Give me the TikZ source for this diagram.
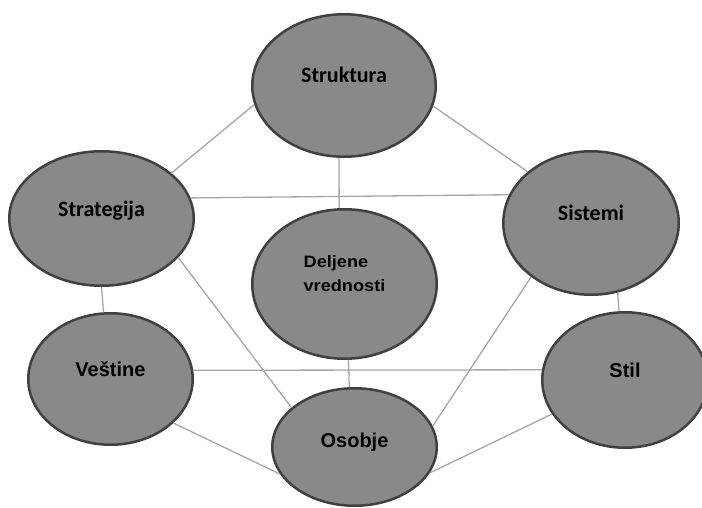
\documentclass[tikz,border=0pt]{standalone}
\usepackage{fontspec}
\newfontfamily\calfont{Carlito}
\newfontfamily\arfont{Liberation Sans}
\newfontfamily\widefont[FakeStretch=1.1]{Liberation Sans}
\usetikzlibrary{shapes.geometric}
\definecolor{bubble}{HTML}{898989}
\definecolor{rim}{HTML}{404040}
\definecolor{wire}{HTML}{A6A6A6}
\tikzset{
  elli/.style={ellipse, draw=rim, line width=2.5pt, fill=bubble, inner sep=0pt,
               text height=12pt, text depth=17pt},
  topname/.style={elli, font=\calfont\bfseries\fontsize{22pt}{26pt}\selectfont},
  lowname/.style={elli, font=\arfont\bfseries\fontsize{20pt}{24pt}\selectfont},
  link/.style={draw=wire, line width=1.3pt}
}

\begin{document}
\begin{tikzpicture}[x=1pt, y=-1pt]
  \useasboundingbox (0,0) rectangle (702,508);

  % the seven ovals
  \node[topname, minimum width=183.5pt, minimum height=142.5pt] (struk) at (344,85.5) {Struktura};
  \node[topname, minimum width=184.5pt, minimum height=134.5pt] (strat) at (101.5,218.5) {Strategija};
  \node[topname, minimum width=175.5pt, minimum height=143.5pt] (sist) at (591,223) {Sistemi};
  \node[elli, font=\widefont\bfseries\fontsize{16.5pt}{24pt}\selectfont,
        text height=20pt, text depth=4.3pt,
        minimum width=184.5pt, minimum height=149.5pt] (delj) at (344.5,284)
        {\vbox{\hbox{Deljene}\hbox{vrednosti}}\hspace{20pt}};
  \node[lowname, minimum width=164.5pt, minimum height=131.5pt] (vest) at (110.5,379) {Veštine};
  \node[lowname, minimum width=165.5pt, minimum height=135.5pt] (stil) at (625,380) {Stil};
  \node[lowname, text depth=11pt, minimum width=164.5pt, minimum height=117.5pt] (osob) at (354.5,447) {Osobje};

  % links
  \draw[link] (struk.192) -- (strat.33);
  \draw[link] (struk.347) -- (sist.141);
  \draw[link] (struk.266) -- (delj.94);
  \draw[link] (strat.13) -- (sist.161);
  \draw[link] (strat.270) -- (vest.96);
  \draw[link] (strat.333) -- (osob.148);
  \draw[link] (sist.291) -- (stil.95);
  \draw[link] (sist.222) -- (osob.15);
  \draw[link] (delj.273) -- (osob.95);
  \draw[link] (vest.6) -- (stil.173);
  \draw[link] (vest.325) -- (osob.200);
  \draw[link] (stil.205) -- (osob.341);
\end{tikzpicture}
\end{document}
